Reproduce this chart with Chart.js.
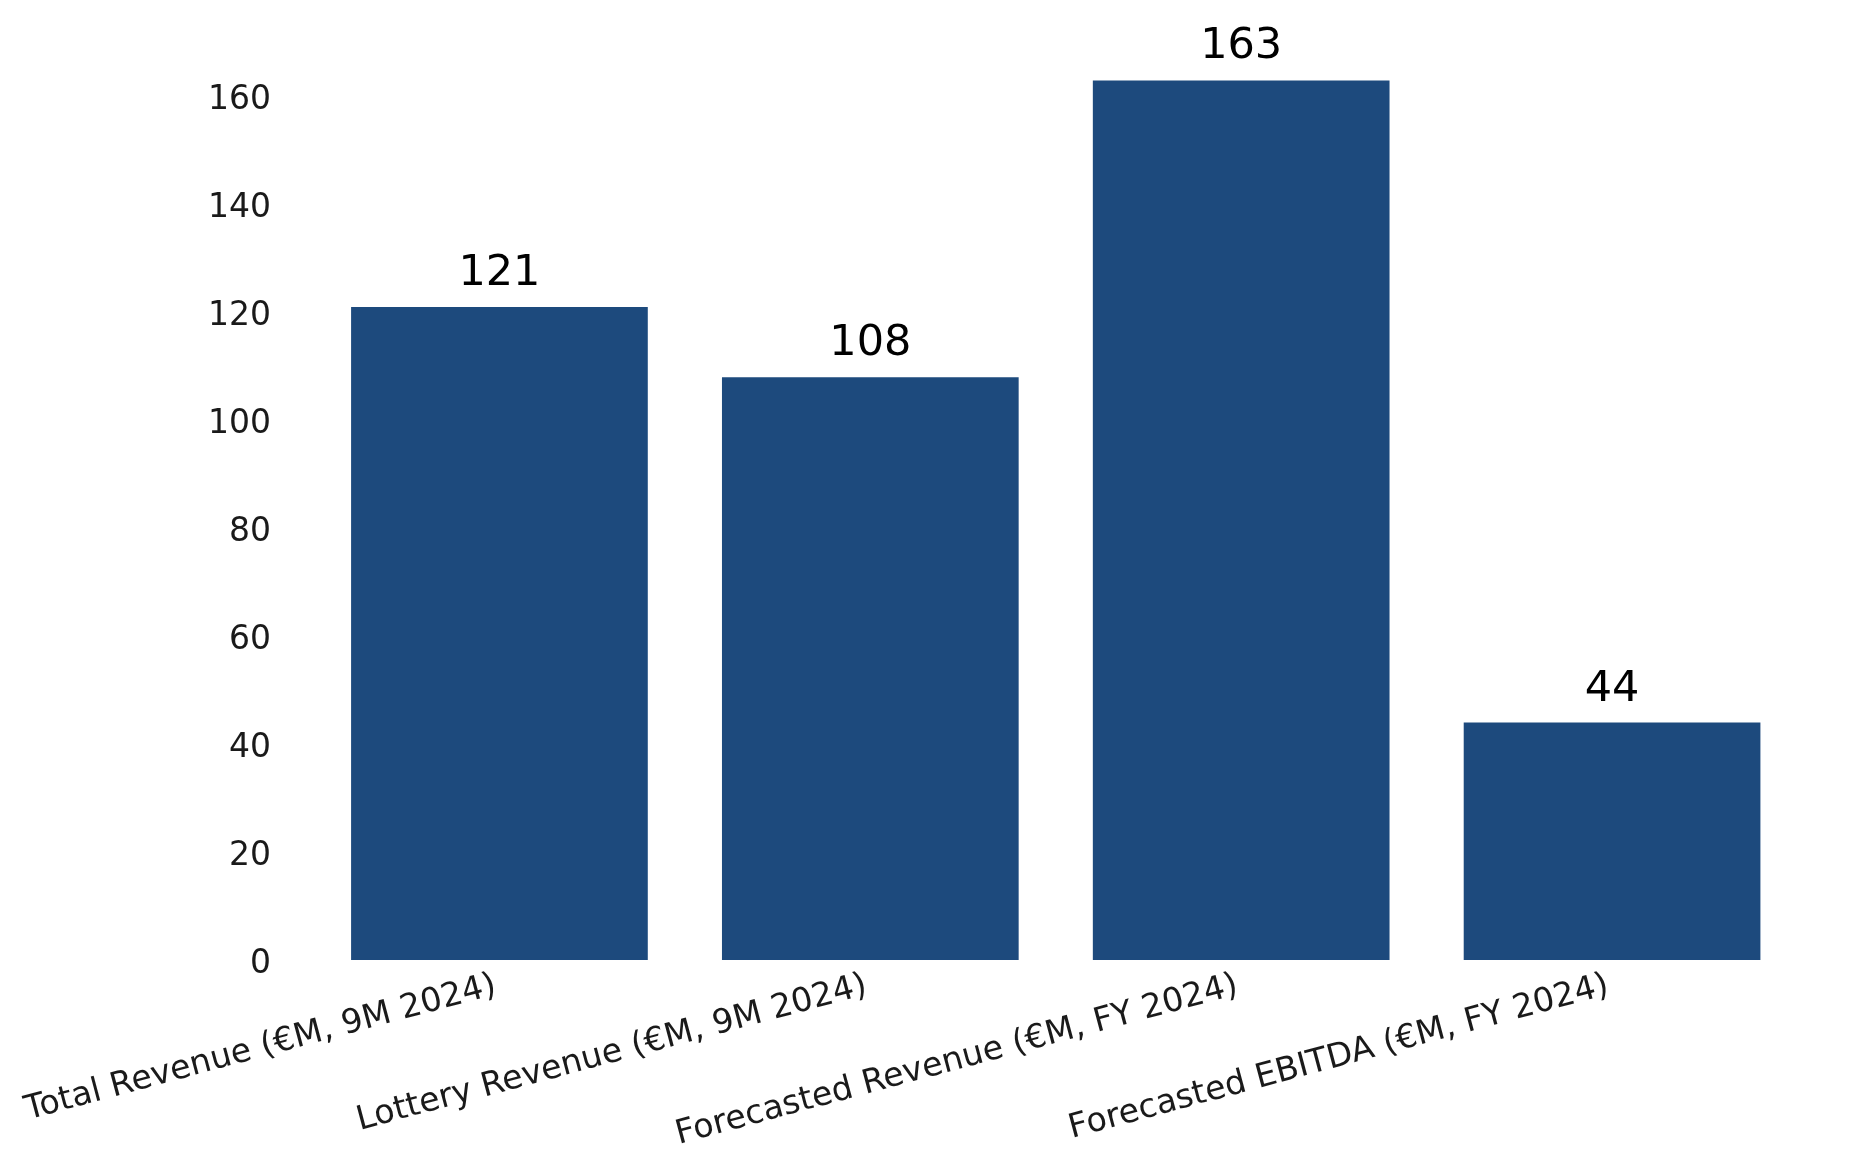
<html>
<head>
    <script src="https://cdn.jsdelivr.net/npm/chart.js@4.4.1/dist/chart.umd.min.js"></script>
    <style>
        html, body {
            margin: 0;
            padding: 0;
            background: #ffffff;
        }

        .frame {
            width: 1850px;
            height: 1171px;
            position: relative;
        }
    </style>
</head>

<body>
    <div class="frame">
        <canvas id="canvas"></canvas>
    </div>
    <script>
        // values
        var categories = [
            'Total Revenue (€M, 9M 2024)',
            'Lottery Revenue (€M, 9M 2024)',
            'Forecasted Revenue (€M, FY 2024)',
            'Forecasted EBITDA (€M, FY 2024)'
        ];
        var values = [121, 108, 163, 44];
        var yTickValues = [0, 20, 40, 60, 80, 100, 120, 140, 160];

        var barColor = '#1d4a7d';
        var fontFamily = '"DejaVu Sans", sans-serif';

        // draws the number above each bar
        var valueLabels = {
            id: 'valueLabels',
            afterDatasetsDraw: function(chart) {
                var ctx = chart.ctx;
                var meta = chart.getDatasetMeta(0);
                ctx.save();
                ctx.font = '43px ' + fontFamily;
                ctx.fillStyle = '#000000';
                ctx.textAlign = 'center';
                ctx.textBaseline = 'alphabetic';
                meta.data.forEach(function(bar, i) {
                    ctx.fillText(chart.data.datasets[0].data[i], bar.x, bar.y - 22);
                });
                ctx.restore();
            }
        };

        var ctx = document.getElementById('canvas').getContext('2d');
        var chart = new Chart(ctx, {
            type: 'bar',
            data: {
                labels: categories,
                datasets: [{
                    data: values,
                    backgroundColor: barColor,
                    borderWidth: 0,
                    barPercentage: 0.8,
                    categoryPercentage: 1.0
                }]
            },
            options: {
                responsive: true,
                maintainAspectRatio: false,
                animation: false,
                devicePixelRatio: 1,
                layout: {
                    padding: { top: 36.5, right: 52.5, bottom: 0, left: 0 }
                },
                plugins: {
                    legend: { display: false },
                    tooltip: { enabled: false }
                },
                scales: {
                    x: {
                        grid: { display: false },
                        border: { display: false },
                        ticks: {
                            autoSkip: false,
                            minRotation: 15,
                            maxRotation: 15,
                            padding: -2,
                            labelOffset: -4,
                            color: '#1a1a1a',
                            font: { family: fontFamily, size: 33.3 }
                        },
                        afterFit: function(scale) {
                            scale.height = 211;
                            // labels hang into the empty left margin, no extra room needed
                            scale.paddingLeft = 0;
                            scale.paddingRight = 0;
                        }
                    },
                    y: {
                        min: 0,
                        max: 171.15,
                        grid: { display: false },
                        border: { display: false },
                        ticks: {
                            padding: 35,
                            labelOffset: 4,
                            color: '#1a1a1a',
                            font: { family: fontFamily, size: 33 }
                        },
                        afterBuildTicks: function(scale) {
                            scale.ticks = yTickValues.map(function(v) {
                                return { value: v };
                            });
                        },
                        afterFit: function(scale) {
                            scale.width = 314;
                            scale.paddingTop = 0;
                            scale.paddingBottom = 0;
                        }
                    }
                }
            },
            plugins: [valueLabels]
        });
    </script>
</body>
</html>
